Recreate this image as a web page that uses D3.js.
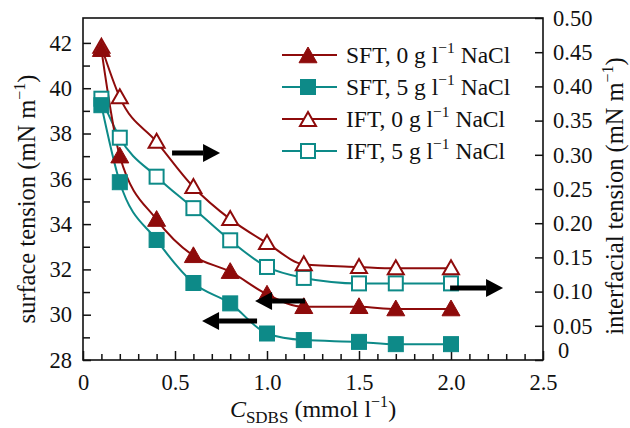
<!DOCTYPE html>
<html lang="en">
<head>
<meta charset="UTF-8">
<title>Surface and interfacial tension vs SDBS</title>
<script src="https://d3js.org/d3.v7.min.js"></script>
<style>
    body { margin: 0; background: #fff; }
    svg text { font-family: "Liberation Serif", "DejaVu Serif", serif; fill: #111; }
</style>
</head>
<body>
<svg width="630" height="428"></svg>
<script>
    // concentration of SDBS (mmol/l)
    const conc = [0.1, 0.2, 0.4, 0.6, 0.8, 1.0, 1.2, 1.5, 1.7, 2.0];

    // surface tension, left axis (mN/m)
    const sft0 = [41.7, 37.0, 34.2, 32.6, 31.9, 30.9, 30.35, 30.35, 30.25, 30.25];
    const sft5 = [39.25, 35.85, 33.3, 31.4, 30.5, 29.17, 28.88, 28.8, 28.7, 28.7];
    // interfacial tension, right axis (mN/m)
    const ift0 = [0.458, 0.384, 0.319, 0.253, 0.206, 0.171, 0.140, 0.136, 0.134, 0.134];
    const ift5 = [0.382, 0.325, 0.268, 0.222, 0.175, 0.136, 0.120, 0.112, 0.112, 0.112];

    const legendLabels = ["SFT, 0 g l", "SFT, 5 g l", "IFT, 0 g l", "IFT, 5 g l"];

    // arrows in data units (x from, x to, y on left axis)
    const arrowFrom = [0.484, 1.207, 0.946, 1.995];
    const arrowTo   = [0.745, 0.935, 0.647, 2.283];
    const arrowY    = [37.14, 30.6, 29.72, 31.18];

    const red = "#8e0b0b", teal = "#0d8a88";

    const svg = d3.select("svg");
    const L = 83, R = 543, T = 18, B = 360;

    const x = d3.scaleLinear().domain([0, 2.5]).range([L, R]);
    const yL = d3.scaleLinear().domain([28, 43.1]).range([B, T]);
    const yR = d3.scaleLinear().domain([0, 0.5]).range([B, T]);

    // box
    svg.append("rect").attr("x", L).attr("y", T).attr("width", R - L).attr("height", B - T)
        .attr("fill", "none").attr("stroke", "#111").attr("stroke-width", 1.6);

    // x axis
    const xAx = svg.append("g").attr("transform", `translate(0,${B})`)
        .call(d3.axisBottom(x).tickValues(d3.range(0, 2.51, 0.5))
            .tickFormat(d => d === 0 ? "0" : d3.format(".1f")(d))
            .tickSizeInner(-9).tickSizeOuter(0).tickPadding(14));
    xAx.select(".domain").remove();
    xAx.selectAll("text").attr("font-size", 22.5);
    svg.append("g").attr("transform", `translate(0,${B})`)
        .call(d3.axisBottom(x).tickValues(d3.range(1, 25).map(i => i / 10).filter(v => Math.round(v * 10) % 5 !== 0))
            .tickSizeInner(-6).tickSizeOuter(0).tickFormat(""))
        .select(".domain").remove();

    // left axis
    const yLAx = svg.append("g").attr("transform", `translate(${L},0)`)
        .call(d3.axisLeft(yL).tickValues(d3.range(28, 43, 2)).tickSizeInner(-8).tickSizeOuter(0).tickPadding(11));
    yLAx.select(".domain").remove();
    yLAx.selectAll("text").attr("font-size", 22.5);
    svg.append("g").attr("transform", `translate(${L},0)`)
        .call(d3.axisLeft(yL).tickValues(d3.range(29, 43, 2)).tickSizeInner(-7).tickSizeOuter(0).tickFormat(""))
        .select(".domain").remove();

    // right axis
    const yRAx = svg.append("g").attr("transform", `translate(${R},0)`)
        .call(d3.axisRight(yR).tickValues(d3.range(0, 0.51, 0.05))
            .tickFormat(d => d === 0 ? "0" : d3.format(".2f")(d))
            .tickSizeInner(-8).tickSizeOuter(0).tickPadding(10));
    yRAx.select(".domain").remove();
    yRAx.selectAll("text").attr("font-size", 22.5);
    yRAx.selectAll(".tick").filter(d => d === 0).select("text").attr("dx", 5).attr("dy", "-0.1em");

    svg.selectAll(".tick line").attr("stroke", "#111").attr("stroke-width", 1.5);

    // axis titles
    const tl = svg.append("text").attr("transform", `translate(35,199) rotate(-90)`)
        .attr("text-anchor", "middle").attr("font-size", 24.5);
    tl.append("tspan").text("surface tension (mN m");
    tl.append("tspan").attr("font-size", 16).attr("dy", -10).text("−1");
    tl.append("tspan").attr("dy", 10).text(")");

    const tr = svg.append("text").attr("transform", `translate(623,196) rotate(-90)`)
        .attr("text-anchor", "middle").attr("font-size", 24.5);
    tr.append("tspan").text("interfacial tension (mN m");
    tr.append("tspan").attr("font-size", 16).attr("dy", -10).text("−1");
    tr.append("tspan").attr("dy", 10).text(")");

    const tx = svg.append("text").attr("x", (L + R) / 2).attr("y", 417)
        .attr("text-anchor", "middle").attr("font-size", 24);
    tx.append("tspan").attr("font-style", "italic").text("C");
    tx.append("tspan").attr("font-size", 17).attr("dy", 6).text("SDBS");
    tx.append("tspan").attr("dy", -6).text(" (mmol l");
    tx.append("tspan").attr("font-size", 16).attr("dy", -10).text("−1");
    tx.append("tspan").attr("dy", 10).text(")");

    // series
    const series = [
        { vals: sft0, y: yL, color: red, shape: "tri", fill: true },
        { vals: sft5, y: yL, color: teal, shape: "sq", fill: true },
        { vals: ift0, y: yR, color: red, shape: "tri", fill: false },
        { vals: ift5, y: yR, color: teal, shape: "sq", fill: false }
    ];

    function marker(g, s, cx, cy) {
        if (s.shape === "tri") {
            const sz = s.fill ? 9 : 8;
            g.append("path")
                .attr("d", `M${cx},${cy - sz}L${cx + sz},${cy + sz * 0.75}L${cx - sz},${cy + sz * 0.75}Z`)
                .attr("fill", s.fill ? s.color : "#fff")
                .attr("stroke", s.color).attr("stroke-width", s.fill ? 1 : 2);
        } else {
            const sz = s.fill ? 7.5 : 7;
            g.append("rect").attr("x", cx - sz).attr("y", cy - sz).attr("width", 2 * sz).attr("height", 2 * sz)
                .attr("fill", s.fill ? s.color : "#fff")
                .attr("stroke", s.color).attr("stroke-width", s.fill ? 1 : 2);
        }
    }

    // draw lines first, open markers, then filled ones on top
    const order = [3, 2, 1, 0];
    order.forEach(i => {
        const s = series[i];
        const line = d3.line().x((d, j) => x(conc[j])).y(d => s.y(d)).curve(d3.curveMonotoneX);
        svg.append("path").datum(s.vals).attr("d", line)
            .attr("fill", "none").attr("stroke", s.color).attr("stroke-width", 2);
    });
    order.forEach(i => {
        const s = series[i];
        const g = svg.append("g");
        s.vals.forEach((v, j) => marker(g, s, x(conc[j]), s.y(v)));
    });

    // arrows
    arrowFrom.forEach((a, i) => {
        const x0 = x(a), x1 = x(arrowTo[i]), yy = yL(arrowY[i]);
        const dir = x1 > x0 ? 1 : -1;
        const head = 17;
        svg.append("line").attr("x1", x0).attr("x2", x1 - dir * head).attr("y1", yy).attr("y2", yy)
            .attr("stroke", "#000").attr("stroke-width", 5);
        svg.append("path")
            .attr("d", `M${x1},${yy}L${x1 - dir * head},${yy - 9}L${x1 - dir * head},${yy + 9}Z`)
            .attr("fill", "#000");
    });

    // legend
    const legY = [55, 87, 119, 151];
    legendLabels.forEach((lab, i) => {
        const s = series[i];
        const g = svg.append("g");
        g.append("line").attr("x1", 282).attr("x2", 337).attr("y1", legY[i]).attr("y2", legY[i])
            .attr("stroke", s.color).attr("stroke-width", 2);
        marker(g, s, 308, legY[i] + (s.shape === "tri" ? 1 : 0));
        const t = g.append("text").attr("x", 346).attr("y", legY[i] + 8).attr("font-size", 23.5);
        t.append("tspan").text(lab);
        t.append("tspan").attr("font-size", 15.5).attr("dy", -10).text("−1");
        t.append("tspan").attr("dy", 10).text(" NaCl");
    });
</script>
</body>
</html>
